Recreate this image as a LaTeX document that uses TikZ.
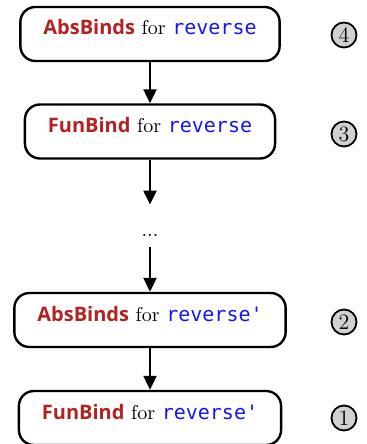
\documentclass[tikz,border=0pt]{standalone}
\usepackage{fontspec}
\setmonofont{DejaVu Sans Mono}
\newfontfamily\kwfont{Open Sans}
\usetikzlibrary{arrows.meta}

\definecolor{kwred}{RGB}{178,34,34}
\definecolor{idblue}{RGB}{20,20,250}
\newcommand{\kw}[1]{{\kwfont\bfseries\color{kwred}#1}}
\newcommand{\ident}[1]{{\ttfamily\color{idblue}#1}}

\begin{document}
\begin{tikzpicture}[
    x=0.5pt, y=-0.5pt,
    bind/.style={rectangle, rounded corners=7.5pt, draw, line width=1.2pt, inner xsep=11.5pt, inner ysep=6.5pt, text height=7.5pt, text depth=6.5pt},
    arrow/.style={-{Triangle[length=7pt,width=6.5pt]}, line width=1.1pt},
    stage/.style={circle, draw, fill=black!18, line width=0.9pt, minimum size=12.5pt, inner sep=0pt, font=\fontsize{11}{13}\selectfont},
]
\useasboundingbox (0,0) rectangle (366,444);

\node[bind] (ABS) at (150,34) {\kw{AbsBinds} for \ident{reverse}};
\node[bind] (FUN) at (150,131.5) {\kw{FunBind} for \ident{reverse}};
\node[inner xsep=0pt, inner ysep=5.5pt, text height=10pt, text depth=0pt] (DOTS) at (150,226) {...};
\node[bind] (ABSP) at (150,320) {\kw{AbsBinds} for \ident{reverse\textquotesingle}};
\node[bind] (FUNP) at (150,418) {\kw{FunBind} for \ident{reverse\textquotesingle}};

\draw[arrow] (ABS) -- (FUN);
\draw[arrow] (FUN) -- (DOTS);
\draw[arrow] (DOTS) -- (ABSP);
\draw[arrow] (ABSP) -- (FUNP);

\node[stage] (S4) at (344,35) {4};
\node[stage] (S3) at (344,134) {3};
\node[stage] (S2) at (344,322) {2};
\node[stage] (S1) at (344,418) {1};
\end{tikzpicture}
\end{document}
